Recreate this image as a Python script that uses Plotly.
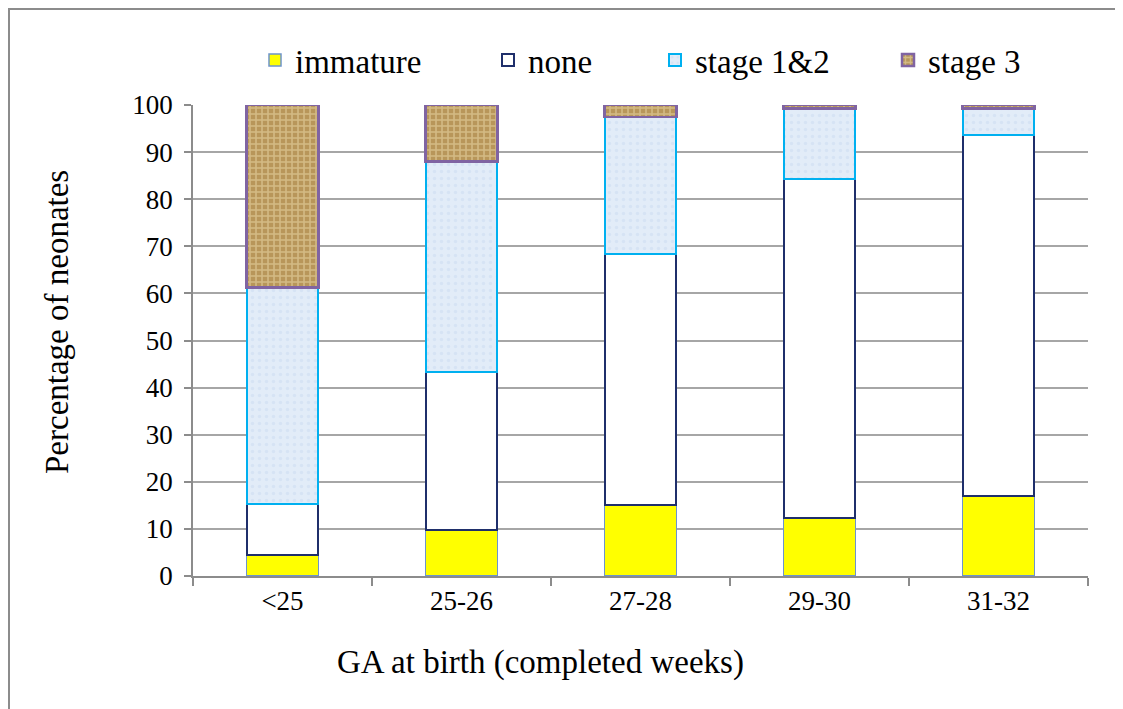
import plotly.graph_objects as go

categories = ["<25", "25-26", "27-28", "29-30", "31-32"]
immature = [4.5, 9.7, 15.0, 12.3, 16.9]
none_ = [10.8, 33.6, 53.4, 72.0, 76.8]
stage12 = [46.0, 44.7, 29.1, 15.0, 5.6]
stage3 = [38.7, 12.0, 2.5, 0.7, 0.7]
y_ticks = list(range(0, 101, 10))

FONT = "Liberation Serif"
OFF = 8  # page body margin
W, H = 1123 - OFF, 709 - OFF
L, T = 193 - OFF, 105 - OFF
R = W - (1088 - OFF)
B = H - (576 - OFF)
pw, ph = W - L - R, H - T - B

def px(xr):
    return (xr - OFF - L) / pw

def py(yr):
    return (H - B - (yr - OFF)) / ph

def cx(xr):
    return (xr - OFF) / W

def cy(yr):
    return 1 - (yr - OFF) / H

fig = go.Figure()
fig.add_trace(go.Bar(
    x=categories, y=immature, name="immature", legend="legend", showlegend=True,
    marker=dict(color="#ffff00", line=dict(color="#6d94cc", width=1.5)),
))
fig.add_trace(go.Bar(
    x=categories, y=none_, name="none", legend="legend2", showlegend=True,
    marker=dict(color="#ffffff", line=dict(color="#1f2f6b", width=2)),
))
fig.add_trace(go.Bar(
    x=categories, y=stage12, name="stage 1&2", legend="legend3", showlegend=True,
    marker=dict(color="#dde9f7", line=dict(color="#00b0f0", width=2),
                pattern=dict(shape=".", fgcolor="#c9daf0", bgcolor="#e2ecf8", size=7, solidity=0.2)),
))
fig.add_trace(go.Bar(
    x=categories, y=stage3, name="stage 3", legend="legend4", showlegend=True,
    marker=dict(color="#c6a669", line=dict(color="#8064a2", width=2.5),
                pattern=dict(shape="+", fgcolor="#eedfb0", bgcolor="#b8965a", size=6, solidity=0.45)),
))

legend_common = dict(orientation="h", yanchor="middle", xanchor="left",
                     xref="container", yref="container",
                     font=dict(family=FONT, size=33, color="#000000"),
                     bgcolor="rgba(0,0,0,0)", borderwidth=0, itemwidth=30)
fig.update_layout(
    showlegend=True,
    legend=dict(x=cx(255), y=cy(60), **legend_common),
    legend2=dict(x=cx(488), y=cy(60), **legend_common),
    legend3=dict(x=cx(655), y=cy(60), **legend_common),
    legend4=dict(x=cx(888), y=cy(60), **legend_common),
)

fig.update_layout(
    width=W, height=H,
    barmode="stack", bargap=0.6,
    margin=dict(l=L, r=R, t=T, b=B, pad=0, autoexpand=False),
    paper_bgcolor="#ffffff", plot_bgcolor="#ffffff",
    font=dict(family=FONT, color="#000000"),
    xaxis=dict(
        type="category", tickson="boundaries", ticks="outside", ticklen=8,
        tickcolor="#8c8c8c", tickwidth=1.5,
        showline=True, linecolor="#8c8c8c", linewidth=1.5,
        showgrid=False, tickfont=dict(family=FONT, size=27),
    ),
    yaxis=dict(
        range=[0, 100], tickvals=y_ticks, ticks="outside", ticklen=7,
        tickcolor="#8c8c8c", tickwidth=1.5,
        showline=True, linecolor="#8c8c8c", linewidth=1.5,
        showgrid=True, gridcolor="#a6a6a6", gridwidth=1.5,
        zeroline=False, tickfont=dict(family=FONT, size=27),
        ticklabelstandoff=6,
    ),
    annotations=[
        dict(text="Percentage of neonates", x=px(57), y=py(322), xref="paper", yref="paper",
             xanchor="center", yanchor="middle",
             textangle=-90, showarrow=False, font=dict(family=FONT, size=33)),
        dict(text="GA at birth (completed weeks)", x=px(540), y=py(662), xref="paper", yref="paper",
             xanchor="center", yanchor="middle",
             showarrow=False, font=dict(family=FONT, size=33)),
    ],
    shapes=[
        dict(type="rect", xref="paper", yref="paper",
             x0=px(9), x1=px(1117), y0=py(730), y1=py(9),
             line=dict(color="#8c8c8c", width=2), fillcolor="rgba(0,0,0,0)", layer="below"),
    ],
)

fig.write_html("out.html")
